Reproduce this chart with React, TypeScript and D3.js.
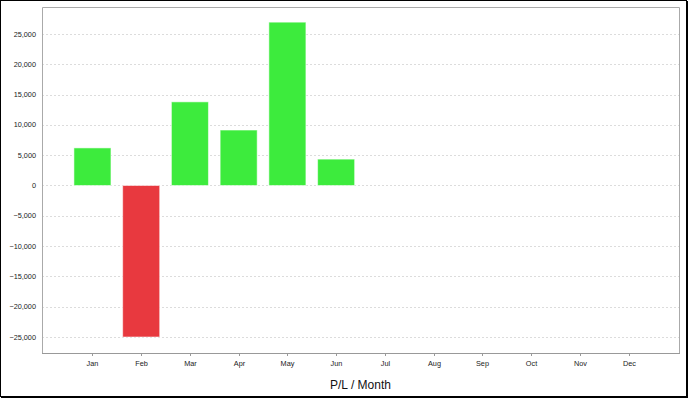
import React from "react";
import * as d3 from "d3";

const months = ["Jan", "Feb", "Mar", "Apr", "May", "Jun", "Jul", "Aug", "Sep", "Oct", "Nov", "Dec"];
const plValues: (number | null)[] = [6200, -25000, 13800, 9150, 26950, 4350, null, null, null, null, null, null];
const yTicks = [-25000, -20000, -15000, -10000, -5000, 0, 5000, 10000, 15000, 20000, 25000];
const yDomain = [-27640, 29450];
const title = "P/L / Month";

const W = 688, H = 398;
const left = 42, right = 679, top = 7, bottom = 353;

export default function App() {
  const x = d3.scaleBand<string>().domain(months).range([left, right]).paddingInner(0.24).paddingOuter(0.655);
  const y = d3.scaleLinear().domain(yDomain).range([bottom, top]);
  const fmt = d3.format(",");
  const font = "'Liberation Sans', Arial, sans-serif";
  return (
    <svg width={W} height={H} style={{ position: "fixed", left: 0, top: 0, background: "#fff" }}>
      <rect x={0} y={0} width={W} height={H} fill="#fff" />
      {yTicks.map((t) => (
        <g key={t}>
          <line x1={left} x2={right} y1={Math.round(y(t)) + 0.5} y2={Math.round(y(t)) + 0.5} stroke="#dcdcdc" strokeDasharray="2,2" />
          <text x={36} y={y(t)} dy="0.35em" textAnchor="end" fontSize={7.3} fontFamily={font} fill="#222">{fmt(t)}</text>
        </g>
      ))}
      {months.map((m, i) => {
        const v = plValues[i];
        if (v == null) return null;
        const y0 = y(0), y1 = y(v);
        return (
          <rect key={m} x={x(m)!} width={x.bandwidth()} y={Math.min(y0, y1)} height={Math.abs(y1 - y0)}
            fill={v >= 0 ? "#3deb3d" : "#e8393f"} stroke="rgba(255,255,255,0.55)" strokeWidth={1} />
        );
      })}
      <path d={`M${left + 0.5},${bottom}V${top + 0.5}H${right + 0.5}V${bottom}`} fill="none" stroke="#aaa" />
      <line x1={left} x2={right + 1} y1={bottom + 0.5} y2={bottom + 0.5} stroke="#999" />
      {months.map((m) => {
        const cx = Math.round(x(m)! + x.bandwidth() / 2) + 0.5;
        return (
          <g key={m}>
            <line x1={cx} x2={cx} y1={bottom + 1} y2={bottom + 3} stroke="#999" />
            <text x={cx} y={366} textAnchor="middle" fontSize={7.3} fontFamily={font} fill="#222">{m}</text>
          </g>
        );
      })}
      <text x={(left + right) / 2} y={389} textAnchor="middle" fontSize={12} fontFamily={font} fill="#111">{title}</text>
      <rect x={0.5} y={0.5} width={686} height={396} fill="none" stroke="#000" />
      <line x1={687.5} x2={687.5} y1={1} y2={398} stroke="#000" />
      <line x1={1} x2={688} y1={397.5} y2={397.5} stroke="#000" />
    </svg>
  );
}
